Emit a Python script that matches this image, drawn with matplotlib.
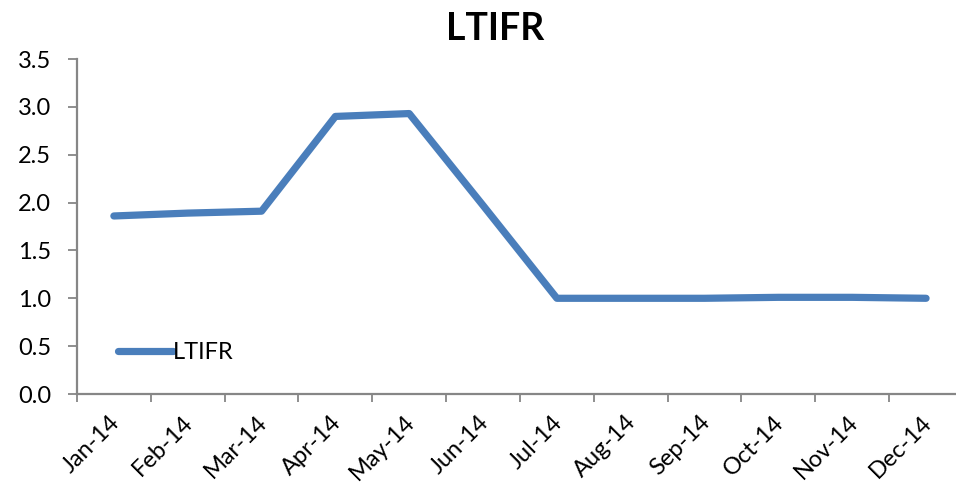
import matplotlib
matplotlib.use("Agg")
from matplotlib import pyplot as plt
import numpy as np

# LTIFR per month
months = ["Jan-14", "Feb-14", "Mar-14", "Apr-14", "May-14", "Jun-14",
          "Jul-14", "Aug-14", "Sep-14", "Oct-14", "Nov-14", "Dec-14"]
ltifr = [1.86, 1.89, 1.91, 2.90, 2.93, 1.97, 1.00, 1.00, 1.00, 1.01, 1.01, 1.00]
y_ticks = [0.0, 0.5, 1.0, 1.5, 2.0, 2.5, 3.0, 3.5]

plt.rcParams['font.family'] = ['Lato', 'DejaVu Sans']

line_color = "#4a7ebb"
axis_color = "#868686"

fig = plt.figure(figsize=(9.56, 4.86), dpi=100)
ax = fig.add_axes([0.0805, 0.1893, 0.9268, 0.6893])

x = np.arange(len(months)) + 0.5
ax.plot(x, ltifr, color=line_color, lw=5.2, solid_capstyle='round',
        solid_joinstyle='round', label="LTIFR")

ax.set_xlim(0, len(months))
ax.set_ylim(0, 3.5)
ax.set_yticks(y_ticks)
ax.set_yticklabels([f"{v:.1f}" for v in y_ticks])

# category ticks sit between the months, labels at the centres
ax.set_xticks(np.arange(len(months)))
ax.set_xticklabels([])
ax.set_xticks(x + 0.03, minor=True)
ax.set_xticklabels(months, minor=True, rotation=45, ha='right',
                   va='center', rotation_mode='anchor')
ax.tick_params(axis='x', which='minor', length=0, pad=18, labelsize=17)
ax.tick_params(axis='x', which='major', length=6, width=1.3, color=axis_color)
ax.tick_params(axis='y', length=6.5, width=1.3, color=axis_color, pad=12,
               labelsize=17)

for side in ("top", "right"):
    ax.spines[side].set_visible(False)
for side in ("left", "bottom"):
    ax.spines[side].set_color(axis_color)
    ax.spines[side].set_linewidth(1.6)

ax.set_title("LTIFR", fontsize=27, fontweight='bold', x=0.4718, pad=14)

leg = ax.legend(loc='center left', bbox_to_anchor=(0.0226, 0.1224),
                frameon=False, fontsize=17, handlelength=2.3,
                handletextpad=0.0)

fig.savefig("out.png", dpi=100)
